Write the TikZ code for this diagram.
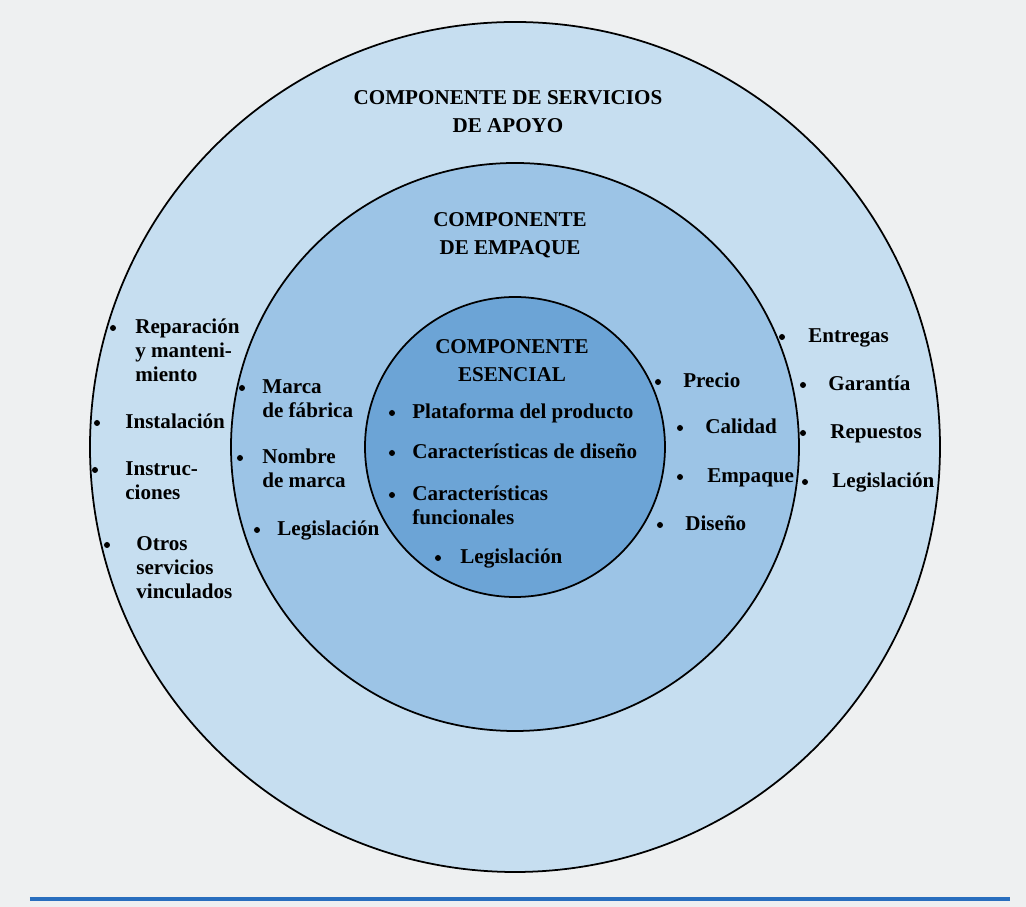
\documentclass[tikz,border=0pt]{standalone}
\usepackage{fontspec}
\setmainfont{Liberation Serif}
\usepackage{tikz}
\definecolor{paper}{RGB}{238,240,241}
\definecolor{ringout}{RGB}{198,222,240}
\definecolor{ringmid}{RGB}{156,196,230}
\definecolor{ringin}{RGB}{108,164,214}
\definecolor{pagerule}{RGB}{40,110,190}
\newcommand{\bitem}[5]{\node[dot] (#1b) at (#2,#4+0.12) {}; \node[lbl] (#1) at (#3,#4) {\begin{tabular}[t]{@{}l@{}}#5\end{tabular}};}

\begin{document}
\begin{tikzpicture}
\tikzset{lbl/.style={anchor=base west, inner sep=0pt, font=\fontsize{12}{13.5}\selectfont\bfseries}}
\tikzstyle{dot} = [circle, fill=black, inner sep=0pt, minimum size=1.2mm]
\tikzstyle{head} = [anchor=base, inner sep=0pt, font=\fontsize{12}{15.5}\selectfont\bfseries]
\useasboundingbox (-10.30,-9.20) rectangle (10.22,8.94);
\fill[paper] (-10.30,-9.20) rectangle (10.22,8.94);
\draw[pagerule, line width=1.8pt] (-9.70,-9.04) -- (9.90,-9.04);
\draw[fill=ringout, line width=1pt] (0,0) circle (8.5);
\draw[fill=ringmid, line width=1pt] (0,0) circle (5.68);
\draw[fill=ringin, line width=1pt] (0,0) circle (3.0);

\node[head] (apoyo) at (-0.14,6.84) {\begin{tabular}[t]{@{}c@{}}COMPONENTE DE SERVICIOS\\DE APOYO\end{tabular}};
\node[head] (empaque) at (-0.10,4.40) {\begin{tabular}[t]{@{}c@{}}COMPONENTE\\DE EMPAQUE\end{tabular}};
\node[head] (esencial) at (-0.06,1.86) {\begin{tabular}[t]{@{}c@{}}COMPONENTE\\ESENCIAL\end{tabular}};

% componente esencial
\bitem{e1}{-2.46}{-2.06}{0.56}{Plataforma del producto}
\bitem{e2}{-2.46}{-2.06}{-0.24}{Características de diseño}
\bitem{e3}{-2.46}{-2.06}{-1.08}{Características\\funcionales}
\bitem{e4}{-1.54}{-1.10}{-2.34}{Legislación}

% componente de empaque
\bitem{m1}{-5.46}{-5.06}{1.06}{Marca\\de fábrica}
\bitem{m2}{-5.50}{-5.06}{-0.34}{Nombre\\de marca}
\bitem{m3}{-5.16}{-4.76}{-1.78}{Legislación}
\bitem{m4}{2.86}{3.36}{1.18}{Precio}
\bitem{m5}{3.30}{3.80}{0.26}{Calidad}
\bitem{m6}{3.30}{3.84}{-0.72}{Empaque}
\bitem{m7}{2.90}{3.40}{-1.68}{Diseño}

% servicios de apoyo
\bitem{s1}{-8.04}{-7.60}{2.26}{Reparación\\y manteni-\\miento}
\bitem{s2}{-8.36}{-7.80}{0.36}{Instalación}
\bitem{s3}{-8.40}{-7.80}{-0.58}{Instruc-\\ciones}
\bitem{s4}{-8.16}{-7.58}{-2.08}{Otros\\servicios\\vinculados}
\bitem{s5}{5.34}{5.86}{2.08}{Entregas}
\bitem{s6}{5.76}{6.26}{1.12}{Garantía}
\bitem{s7}{5.76}{6.30}{0.16}{Repuestos}
\bitem{s8}{5.80}{6.34}{-0.82}{Legislación}
\end{tikzpicture}
\end{document}
